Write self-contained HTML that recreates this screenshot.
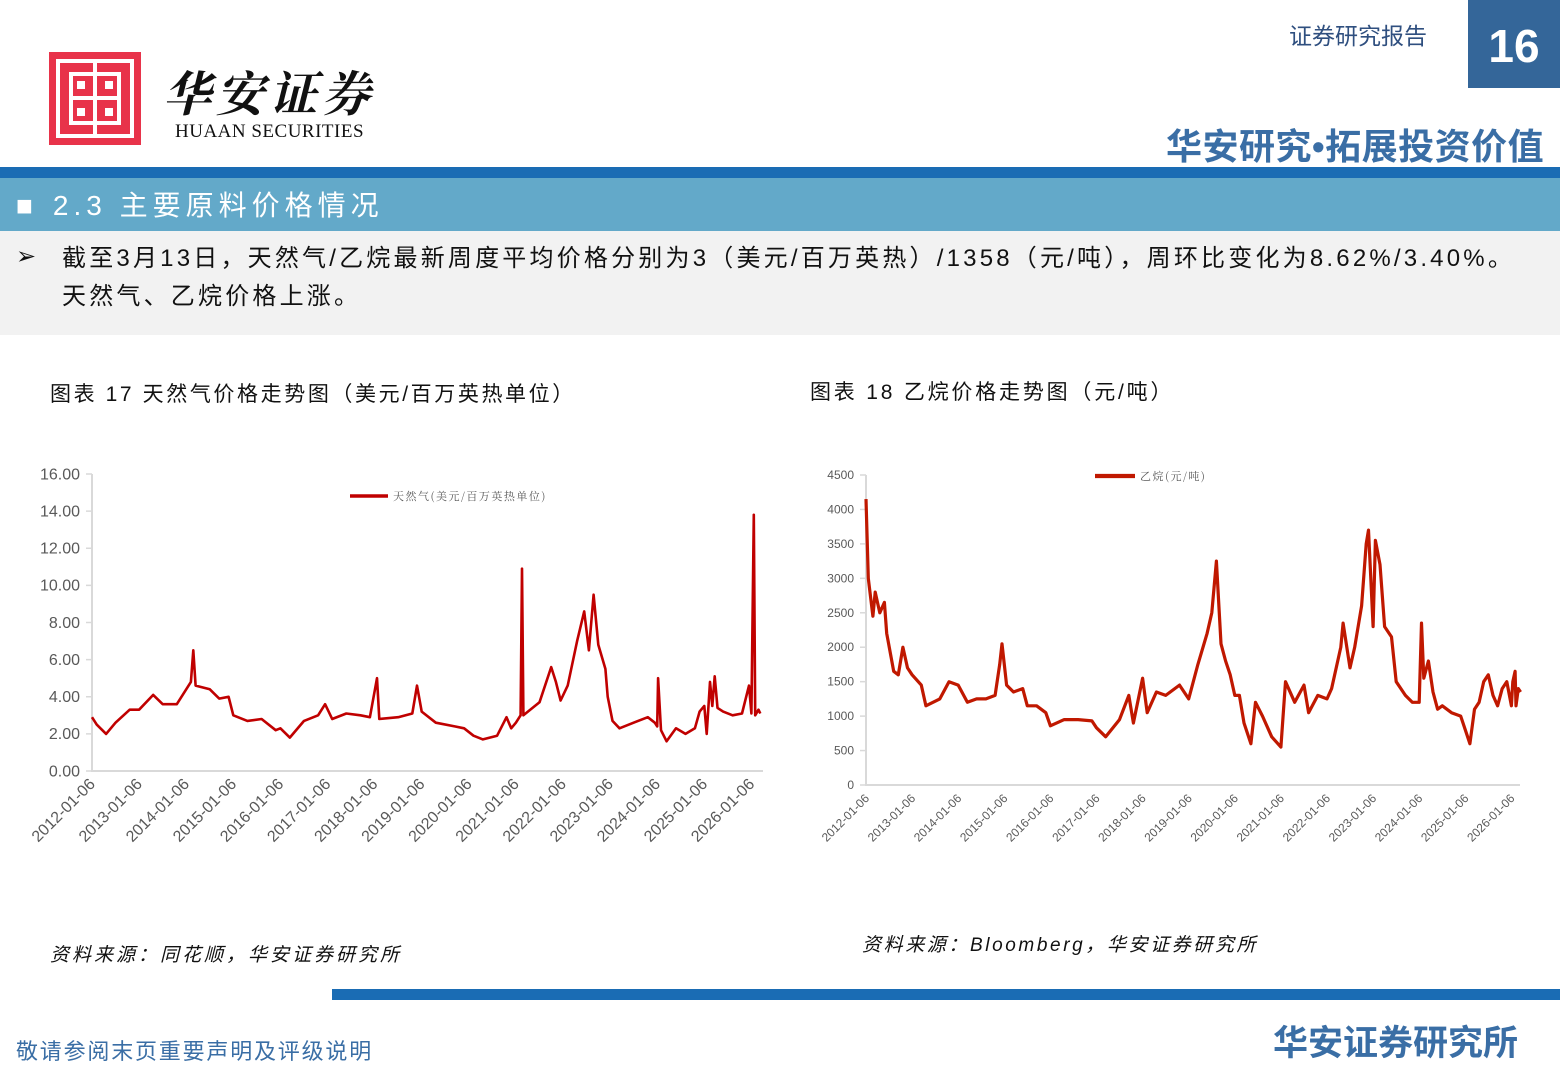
<!DOCTYPE html>
<html><head><meta charset="utf-8">
<style>
body{margin:0;width:1560px;height:1080px;position:relative;background:#fff;font-family:"Liberation Sans","Noto Sans CJK SC",sans-serif;overflow:hidden}
.a{position:absolute;white-space:nowrap}
</style></head><body>
<div class="a" style="left:49px;top:52px;width:92px;height:93px;background:#e8334a">
<svg width="92" height="93" viewBox="0 0 92 93"><g fill="none" stroke="#fff" stroke-width="4"><rect x="9" y="9" width="74" height="75"/><rect x="22" y="22" width="48" height="49"/><path d="M46 9v75M22 46h48"/></g><g fill="#fff"><rect x="28" y="29" width="8" height="8"/><rect x="56" y="29" width="8" height="8"/><rect x="28" y="56" width="8" height="8"/><rect x="56" y="56" width="8" height="8"/></g></svg></div>
<div class="a" style="left:163px;top:56px;font:italic bold 48px 'Noto Serif CJK SC',serif;letter-spacing:5px;color:#111">华安证券</div>
<div class="a" style="left:175px;top:121px;font:19px 'Liberation Serif',serif;color:#111;letter-spacing:0.5px">HUAAN SECURITIES</div>
<div class="a" style="left:1289px;top:17px;font-size:23px;color:#2f4f7f">证券研究报告</div>
<div class="a" style="left:1468px;top:0;width:92px;height:88px;background:#346699;color:#fff;font:bold 46px 'Liberation Sans';text-align:center;line-height:92px">16</div>
<div class="a" style="left:1166px;top:118px;font-weight:bold;font-size:36px;color:#3a6ea5;letter-spacing:0.5px">华安研究•拓展投资价值</div>
<div class="a" style="left:0;top:167px;width:1560px;height:11px;background:#1a6cb4"></div>
<div class="a" style="left:0;top:178px;width:1560px;height:53px;background:#63a9c9;color:#fff;font-size:28px;line-height:56px"><span style="margin-left:16px">■</span><span style="margin-left:20px;letter-spacing:5px">2.3 主要原料价格情况</span></div>
<div class="a" style="left:0;top:231px;width:1560px;height:104px;background:#f2f2f2"></div>
<div class="a" style="left:16px;top:242px;font-size:24px;color:#111">➢</div>
<div class="a" style="left:62px;top:240px;font-size:24px;color:#111;line-height:38px;letter-spacing:3.2px">截至3月13日，天然气/乙烷最新周度平均价格分别为3（美元/百万英热）/1358（元/吨），周环比变化为8.62%/3.40%。<br>天然气、乙烷价格上涨。</div>
<div class="a" style="left:50px;top:378px;font-size:21px;color:#111;letter-spacing:2.6px">图表 17 天然气价格走势图（美元/百万英热单位）</div>
<div class="a" style="left:810px;top:376px;font-size:21px;color:#111;letter-spacing:2.8px">图表 18 乙烷价格走势图（元/吨）</div>
<svg class="a" style="left:0;top:440px" width="1560" height="460">
<g id="c1"></g>
<g id="c2"></g>
</svg>
<div class="a" style="left:50px;top:940px;font-size:19px;font-style:italic;color:#111;letter-spacing:3px">资料来源：同花顺，华安证券研究所</div>
<div class="a" style="left:862px;top:930px;font-size:19px;font-style:italic;color:#111;letter-spacing:2.6px">资料来源：Bloomberg，华安证券研究所</div>
<div class="a" style="left:332px;top:989px;width:1228px;height:11px;background:#1a6cb4"></div>
<div class="a" style="left:16px;top:1034px;font-size:22px;color:#3a6ea5;letter-spacing:1.8px">敬请参阅末页重要声明及评级说明</div>
<div class="a" style="left:1273px;top:1015px;font-size:35px;font-weight:bold;color:#3a6ea5">华安证券研究所</div>
<script>
const years=["2012-01-06","2013-01-06","2014-01-06","2015-01-06","2016-01-06","2017-01-06","2018-01-06","2019-01-06","2020-01-06","2021-01-06","2022-01-06","2023-01-06","2024-01-06","2025-01-06","2026-01-06"];
const gasT=[2012.0,2012.1,2012.3,2012.5,2012.8,2013.0,2013.3,2013.5,2013.8,2014.1,2014.15,2014.2,2014.5,2014.7,2014.9,2015.0,2015.3,2015.6,2015.9,2016.0,2016.2,2016.5,2016.8,2016.95,2017.1,2017.4,2017.7,2017.9,2018.05,2018.1,2018.5,2018.8,2018.9,2019.0,2019.3,2019.7,2019.9,2020.1,2020.3,2020.6,2020.8,2020.9,2021.0,2021.1,2021.13,2021.16,2021.5,2021.75,2021.85,2021.95,2022.1,2022.3,2022.45,2022.55,2022.65,2022.75,2022.9,2022.95,2023.05,2023.2,2023.5,2023.8,2023.95,2024.0,2024.02,2024.08,2024.2,2024.4,2024.6,2024.8,2024.9,2025.0,2025.05,2025.12,2025.17,2025.22,2025.28,2025.4,2025.6,2025.8,2025.95,2026.0,2026.05,2026.08,2026.15,2026.19];
const gasV=[2.9,2.5,2.0,2.6,3.3,3.3,4.1,3.6,3.6,4.8,6.5,4.6,4.4,3.9,4.0,3.0,2.7,2.8,2.2,2.3,1.8,2.7,3.0,3.6,2.8,3.1,3.0,2.9,5.0,2.8,2.9,3.1,4.6,3.2,2.6,2.4,2.3,1.9,1.7,1.9,2.9,2.3,2.6,3.0,10.9,3.0,3.7,5.6,4.8,3.8,4.6,7.0,8.6,6.5,9.5,6.8,5.5,4.0,2.7,2.3,2.6,2.9,2.6,2.4,5.0,2.2,1.6,2.3,2.0,2.3,3.2,3.5,2.0,4.8,3.5,5.1,3.4,3.2,3.0,3.1,4.6,3.1,13.8,3.0,3.3,3.1];
const gasTicks=["0.00","2.00","4.00","6.00","8.00","10.00","12.00","14.00","16.00"];
const ethT=[2012.0,2012.05,2012.15,2012.2,2012.3,2012.4,2012.45,2012.6,2012.7,2012.8,2012.9,2013.0,2013.2,2013.3,2013.6,2013.8,2014.0,2014.2,2014.4,2014.6,2014.8,2014.9,2014.95,2015.05,2015.2,2015.4,2015.5,2015.7,2015.9,2016.0,2016.3,2016.6,2016.9,2017.0,2017.2,2017.5,2017.7,2017.8,2018.0,2018.1,2018.3,2018.5,2018.8,2019.0,2019.2,2019.4,2019.5,2019.6,2019.7,2019.8,2019.9,2020.0,2020.1,2020.2,2020.35,2020.45,2020.6,2020.8,2021.0,2021.1,2021.3,2021.5,2021.6,2021.8,2022.0,2022.1,2022.3,2022.35,2022.5,2022.6,2022.75,2022.85,2022.9,2023.0,2023.05,2023.15,2023.25,2023.4,2023.5,2023.7,2023.85,2024.0,2024.05,2024.1,2024.2,2024.3,2024.4,2024.5,2024.7,2024.9,2025.0,2025.1,2025.2,2025.3,2025.4,2025.5,2025.6,2025.7,2025.8,2025.9,2026.0,2026.03,2026.08,2026.1,2026.15,2026.2];
const ethV=[4150,3000,2450,2800,2500,2650,2200,1650,1600,2000,1700,1600,1450,1150,1250,1500,1450,1200,1250,1250,1300,1750,2050,1450,1350,1400,1150,1150,1050,860,950,950,930,830,700,950,1300,900,1550,1050,1350,1300,1450,1250,1750,2200,2500,3250,2050,1800,1600,1300,1300,900,600,1200,1000,700,550,1500,1200,1450,1050,1300,1250,1400,2000,2350,1700,2000,2600,3500,3700,2300,3550,3200,2300,2150,1500,1300,1200,1200,2350,1550,1800,1350,1100,1150,1050,1000,800,600,1100,1200,1500,1600,1300,1150,1400,1500,1150,1500,1650,1150,1400,1350];
const ethTicks=["0","500","1000","1500","2000","2500","3000","3500","4000","4500"];
const NS="http://www.w3.org/2000/svg";
function mk(p,t,a){const e=document.createElementNS(NS,t);for(const k in a)e.setAttribute(k,a[k]);p.appendChild(e);return e;}
function draw(g,o){
 const x=t=>o.x0+(t-2012)*o.px, y=v=>o.y0-v/o.max*(o.y0-o.y1);
 const ax=mk(g,'path',{d:`M${o.x0} ${o.y1}V${o.y0}H${o.x1}`,stroke:'#d9d9d9',fill:'none','stroke-width':2});
 
 
 o.ticks.forEach(s=>{const v=+s;const yy=y(v);
  mk(g,'line',{x1:o.x0-6,x2:o.x0,y1:yy,y2:yy,stroke:'#d9d9d9','stroke-width':1.5});
  const t=mk(g,'text',{x:o.x0-12,y:yy+o.fs/3,'text-anchor':'end','font-size':o.fs,fill:'#595959','font-family':'Liberation Sans'});t.textContent=s;
  
  });
 years.forEach((s,i)=>{const xx=x(2012+i);
  const t=mk(g,'text',{x:xx+4,y:o.y0+14,'text-anchor':'end','font-size':o.xfs,fill:'#595959','font-family':'Liberation Sans',transform:`rotate(-45 ${xx+4} ${o.y0+14})`});t.textContent=s;
  
  });
 const d=o.T.map((t,i)=>(i?'L':'M')+x(t).toFixed(1)+' '+y(o.V[i]).toFixed(1)).join('');
 const p=mk(g,'path',{d,stroke:o.col,fill:'none','stroke-width':o.lw,'stroke-linejoin':'round'});
 
 
 const l=mk(g,'line',{x1:o.lx,x2:o.lx+o.ll,y1:o.ly,y2:o.ly,stroke:o.col,'stroke-width':o.lw+1});
 
 
 const lt=mk(g,'text',{x:o.lx+o.ll+5,y:o.ly+4,'font-size':11,fill:'#595959','font-family':'Noto Serif CJK SC,serif','letter-spacing':1.5});lt.textContent=o.label;
 
 
}
draw(document.getElementById('c1'),{x0:92,x1:763,y0:331,y1:34,px:47.1,max:16,ticks:gasTicks,fs:16,xfs:16,T:gasT,V:gasV,col:'#c00000',lw:2.6,lx:350,ll:38,ly:56,label:'天然气(美元/百万英热单位)'});
draw(document.getElementById('c2'),{x0:866,x1:1520,y0:345,y1:35,px:46.1,max:4500,ticks:ethTicks,fs:12,xfs:12,T:ethT,V:ethV,col:'#c01800',lw:3.2,lx:1095,ll:40,ly:36,label:'乙烷(元/吨)'});
</script>
</body></html>
